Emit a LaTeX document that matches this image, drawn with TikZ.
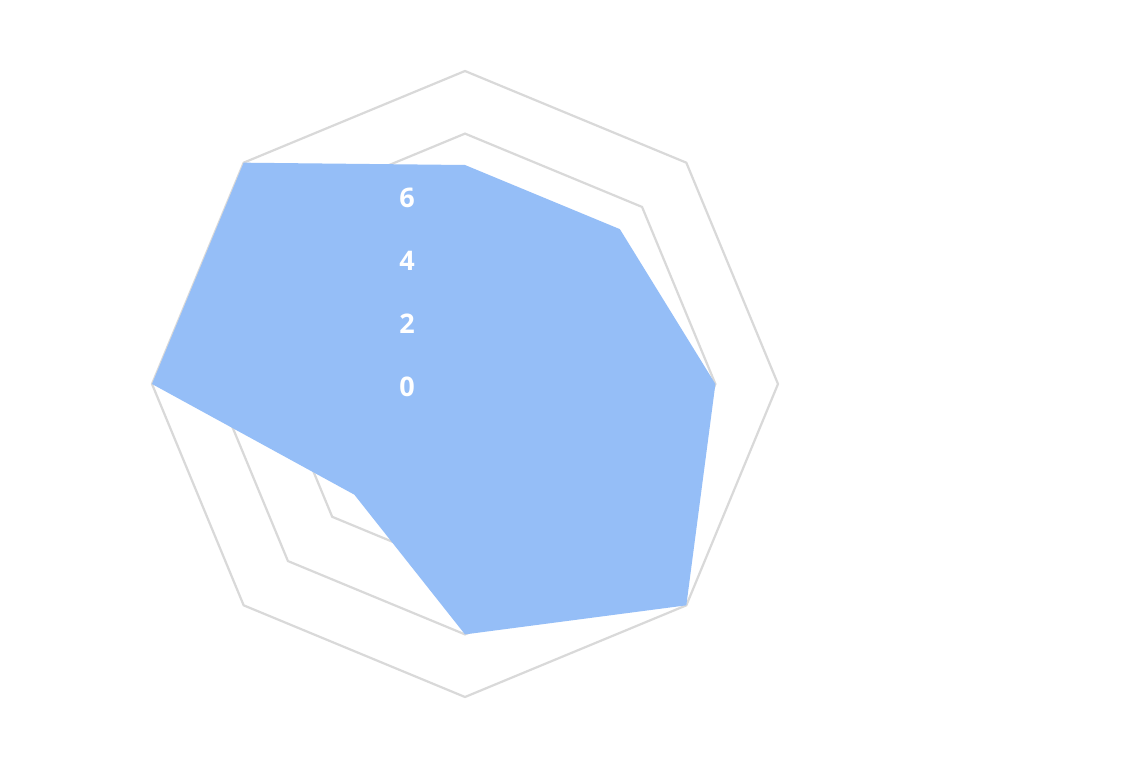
\documentclass[tikz,border=0pt]{standalone}
\usepackage{fontspec}
\setmainfont{Open Sans}
\usetikzlibrary{calc}
\definecolor{gridc}{HTML}{D9D9D9}
\definecolor{fillc}{HTML}{95BEF7}
\begin{document}
\begin{tikzpicture}[x=1pt,y=-1pt,
  ring/.style={draw=gridc,line width=2.2pt},
  lab/.style={text=white,font=\bfseries\fontsize{27}{27}\selectfont,inner sep=0pt}]
\useasboundingbox[fill=white] (0,0) rectangle (1128,771);
\coordinate (c) at (465,384);
\foreach \r in {62.6,125.2,187.8,250.4,313} {
  \draw[ring] ($(c)+(90:\r)$) -- ($(c)+(135:\r)$) -- ($(c)+(180:\r)$) -- ($(c)+(225:\r)$)
   -- ($(c)+(270:\r)$) -- ($(c)+(315:\r)$) -- ($(c)+(0:\r)$) -- ($(c)+(45:\r)$) -- cycle;
}
\fill[fillc] ($(c)+(90:-219)$) -- ($(c)+(135:-219)$) -- ($(c)+(180:-250.4)$) -- ($(c)+(225:-313)$)
  -- ($(c)+(270:-250.4)$) -- ($(c)+(315:-156.5)$) -- ($(c)+(0:-313)$) -- ($(c)+(45:-313)$) -- cycle;
\node[lab] (l6) at (407,198) {6};
\node[lab] (l4) at (407,261) {4};
\node[lab] (l2) at (407,324) {2};
\node[lab] (l0) at (407,387) {0};
\end{tikzpicture}
\end{document}
